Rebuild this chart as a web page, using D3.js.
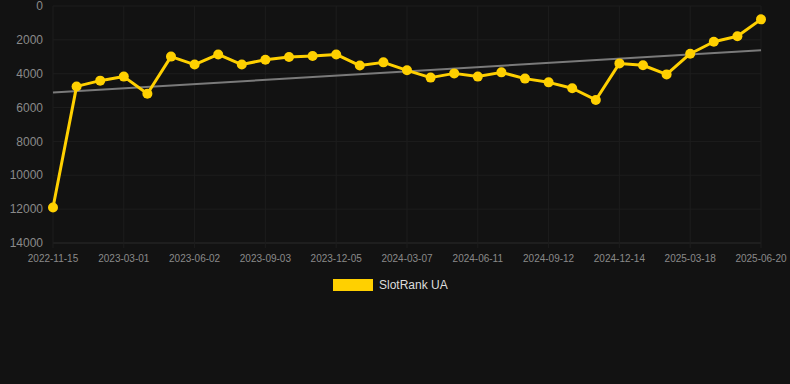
<!DOCTYPE html>
<html>
<head>
<meta charset="utf-8">
<script src="https://cdn.jsdelivr.net/npm/d3@7"></script>
<style>
  html, body { margin: 0; padding: 0; background: #121212; }
  svg { display: block; font-family: Arial, "Liberation Sans", sans-serif; }
</style>
</head>
<body>
<svg id="chart" width="790" height="384"></svg>
<script>
// category dates (only every third one is labelled)
const dates = [
  '2022-11-15', '2022-12-20', '2023-01-24', '2023-03-01', '2023-04-01', '2023-05-02',
  '2023-06-02', '2023-07-03', '2023-08-03', '2023-09-03', '2023-10-04', '2023-11-04',
  '2023-12-05', '2024-01-05', '2024-02-05', '2024-03-07', '2024-04-08', '2024-05-10',
  '2024-06-11', '2024-07-12', '2024-08-12', '2024-09-12', '2024-10-13', '2024-11-13',
  '2024-12-14', '2025-01-14', '2025-02-15', '2025-03-18', '2025-04-18', '2025-05-20',
  '2025-06-20'
];
const rankUA = [
  11900, 4750, 4410, 4170, 5180, 2990, 3460, 2860, 3460, 3170, 3010, 2950,
  2860, 3520, 3330, 3800, 4230, 3980, 4170, 3920, 4290, 4510, 4860, 5550,
  3390, 3500, 4040, 2820, 2110, 1790, 790
];
const yTicks = [0, 2000, 4000, 6000, 8000, 10000, 12000, 14000];
const seriesName = 'SlotRank UA';

const LINE = '#ffd000';
const svg = d3.select('#chart');
const m = { left: 53, right: 761, top: 6, bottom: 243 };

const x = d3.scalePoint().domain(dates).range([m.left, m.right]);
const y = d3.scaleLinear().domain([0, 14000]).range([m.top, m.bottom]);

// grid
const grid = svg.append('g');
grid.selectAll('line.h').data(yTicks).join('line')
  .attr('x1', m.left).attr('x2', m.right)
  .attr('y1', d => y(d)).attr('y2', d => y(d))
  .attr('stroke', d => d === 14000 ? '#2a2a2a' : '#1d1d1d').attr('stroke-width', 1);
const labelled = dates.filter((d, i) => i % 3 === 0);
grid.selectAll('line.v').data(labelled).join('line')
  .attr('x1', d => x(d)).attr('x2', d => x(d))
  .attr('y1', m.top).attr('y2', m.bottom + 5)
  .attr('stroke', '#1d1d1d').attr('stroke-width', 1);

// y axis labels
svg.append('g').selectAll('text').data(yTicks).join('text')
  .attr('x', 43).attr('y', d => y(d)).attr('dy', '0.35em')
  .attr('text-anchor', 'end').attr('fill', '#8a8a8a').attr('font-size', 12)
  .text(d => d);

// x axis labels
svg.append('g').selectAll('text').data(labelled).join('text')
  .attr('x', d => x(d)).attr('y', 262)
  .attr('text-anchor', 'middle').attr('fill', '#8a8a8a').attr('font-size', 10)
  .text(d => d);

// linear trend (least squares over the series)
const n = rankUA.length;
const mx = (n - 1) / 2, my = d3.mean(rankUA);
let sxy = 0, sxx = 0;
rankUA.forEach((v, i) => { sxy += (i - mx) * (v - my); sxx += (i - mx) * (i - mx); });
const slope = sxy / sxx, icpt = my - slope * mx;
svg.append('line')
  .attr('x1', x(dates[0])).attr('y1', y(icpt))
  .attr('x2', x(dates[n - 1])).attr('y2', y(icpt + slope * (n - 1)))
  .attr('stroke', '#7a7a7a').attr('stroke-width', 2);

// series line
const line = d3.line().x((d, i) => x(dates[i])).y(d => y(d));
svg.append('path').datum(rankUA)
  .attr('d', line).attr('fill', 'none')
  .attr('stroke', LINE).attr('stroke-width', 3).attr('stroke-linejoin', 'round');

svg.append('g').selectAll('circle').data(rankUA).join('circle')
  .attr('cx', (d, i) => x(dates[i])).attr('cy', d => y(d))
  .attr('r', 5).attr('fill', LINE);

// legend
const lg = svg.append('g').attr('transform', 'translate(333,279)');
lg.append('rect').attr('width', 40).attr('height', 12).attr('fill', LINE);
lg.append('text').attr('x', 46).attr('y', 6).attr('dy', '0.35em')
  .attr('fill', '#dddddd').attr('font-size', 12).text(seriesName);
</script>
</body>
</html>
